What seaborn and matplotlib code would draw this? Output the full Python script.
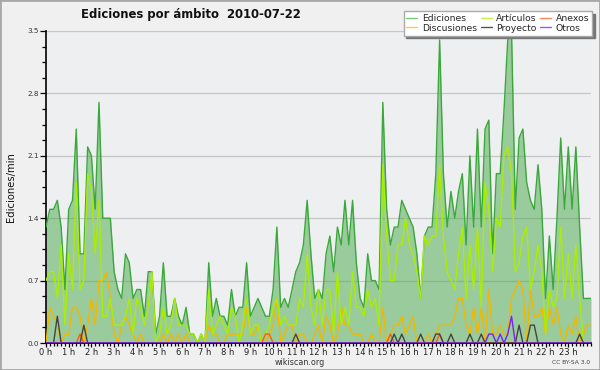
import matplotlib
matplotlib.use("Agg")
import matplotlib.pyplot as plt
from matplotlib.ticker import MultipleLocator
from matplotlib.lines import Line2D
from matplotlib.patches import Rectangle
import pandas as pd
import seaborn as sns

sns.set_theme(style="white")
plt.rcParams["font.family"] = ["DejaVu Sans"]

# edits per minute, 10-minute steps from 0:00 to 24:00
ediciones = [
    1.3, 1.5, 1.5, 1.6, 1.3, 0.6, 1.5, 1.6, 2.4, 1.0,
    1.0, 2.2, 2.1, 1.5, 2.7, 1.4, 1.4, 1.4, 0.8, 0.6,
    0.5, 1.0, 0.9, 0.5, 0.6, 0.6, 0.3, 0.8, 0.8, 0.1,
    0.3, 0.9, 0.3, 0.3, 0.5, 0.3, 0.2, 0.4, 0.1, 0.1,
    0.0, 0.1, 0.0, 0.9, 0.3, 0.5, 0.3, 0.3, 0.2, 0.6,
    0.3, 0.4, 0.4, 0.9, 0.3, 0.4, 0.5, 0.4, 0.3, 0.3,
    0.6, 1.3, 0.4, 0.5, 0.4, 0.6, 0.8, 0.9, 1.1, 1.6,
    1.0, 0.5, 0.6, 0.5, 1.0, 1.2, 0.8, 1.3, 1.1, 1.6,
    1.1, 1.6, 0.9, 0.5, 0.4, 1.0, 0.7, 0.7, 0.6, 2.7,
    1.5, 1.1, 1.3, 1.3, 1.6, 1.5, 1.4, 1.3, 1.0, 0.5,
    1.2, 1.3, 1.3, 1.9, 3.4, 1.9, 1.3, 1.7, 1.4, 1.7,
    1.9, 1.1, 2.1, 1.3, 2.4, 1.3, 2.4, 2.5, 1.0, 1.9,
    1.9, 2.6, 3.4, 3.5, 1.5, 2.3, 2.4, 1.8, 1.6, 1.5,
    2.0, 1.5, 0.5, 1.2, 0.6, 1.4, 2.3, 1.5, 2.2, 1.5,
    2.2, 1.3, 0.5, 0.5, 0.5,
]
articulos = [
    0.7, 0.8, 0.8, 0.5, 1.1, 0.2, 1.0, 0.6, 1.8, 0.6,
    0.7, 1.9, 1.7, 1.0, 1.6, 0.3, 0.3, 0.5, 0.2, 0.2,
    0.2, 0.3, 0.5, 0.1, 0.5, 0.4, 0.2, 0.4, 0.8, 0.0,
    0.1, 0.4, 0.1, 0.2, 0.5, 0.2, 0.2, 0.2, 0.1, 0.1,
    0.0, 0.1, 0.0, 0.6, 0.1, 0.2, 0.3, 0.2, 0.1, 0.4,
    0.3, 0.0, 0.2, 0.5, 0.1, 0.2, 0.2, 0.0, 0.1, 0.2,
    0.4, 0.5, 0.2, 0.3, 0.2, 0.2, 0.2, 0.5, 0.4, 1.0,
    0.4, 0.2, 0.6, 0.2, 0.6, 0.6, 0.1, 0.8, 0.2, 0.4,
    0.2, 0.8, 0.4, 0.4, 0.3, 0.6, 0.4, 0.5, 0.2, 2.0,
    1.2, 0.7, 0.7, 1.1, 1.1, 1.4, 1.1, 1.0, 0.8, 0.5,
    1.2, 1.1, 1.2, 1.2, 2.0, 1.2, 0.8, 0.7, 0.6, 1.0,
    1.3, 0.5, 1.1, 0.6, 1.3, 0.4, 1.8, 1.5, 0.8, 1.4,
    1.3, 2.1, 2.2, 1.9, 0.8, 0.9, 1.2, 1.3, 0.6, 0.8,
    1.1, 0.8, 0.1, 0.6, 0.4, 0.5, 1.3, 0.5, 1.0, 0.5,
    1.1, 0.5, 0.0, 0.0, 0.0,
]
discusiones = [
    0.0, 0.4, 0.3, 0.2, 0.0, 0.1, 0.1, 0.4, 0.4, 0.3,
    0.0, 0.2, 0.5, 0.2, 0.7, 0.7, 0.8, 0.5, 0.1, 0.0,
    0.2, 0.3, 0.2, 0.1, 0.0, 0.1, 0.0, 0.0, 0.0, 0.0,
    0.0, 0.1, 0.0, 0.1, 0.0, 0.1, 0.0, 0.1, 0.0, 0.0,
    0.0, 0.0, 0.0, 0.2, 0.1, 0.1, 0.0, 0.0, 0.1, 0.1,
    0.1, 0.1, 0.1, 0.4, 0.1, 0.1, 0.2, 0.0, 0.0, 0.1,
    0.2, 0.5, 0.0, 0.1, 0.2, 0.2, 0.0, 0.1, 0.1, 0.0,
    0.0, 0.1, 0.2, 0.0, 0.3, 0.2, 0.0, 0.1, 0.4, 0.2,
    0.2, 0.1, 0.1, 0.1, 0.0, 0.0, 0.1, 0.0, 0.0, 0.4,
    0.0, 0.1, 0.2, 0.2, 0.3, 0.1, 0.2, 0.3, 0.0, 0.0,
    0.0, 0.1, 0.0, 0.1, 0.2, 0.2, 0.2, 0.2, 0.3, 0.5,
    0.5, 0.2, 0.1, 0.4, 0.1, 0.4, 0.0, 0.6, 0.1, 0.1,
    0.2, 0.1, 0.1, 0.5, 0.6, 0.7, 0.6, 0.0, 0.6, 0.3,
    0.3, 0.4, 0.1, 0.4, 0.2, 0.4, 0.1, 0.0, 0.2, 0.1,
    0.3, 0.0, 0.1, 0.2, 0.2,
]
proyecto = [
    0.0, 0.0, 0.0, 0.3, 0.0, 0.0, 0.0, 0.0, 0.0, 0.0,
    0.2, 0.0, 0.0, 0.0, 0.0, 0.0, 0.0, 0.0, 0.0, 0.0,
    0.0, 0.0, 0.0, 0.0, 0.0, 0.0, 0.0, 0.0, 0.0, 0.0,
    0.0, 0.0, 0.0, 0.0, 0.0, 0.0, 0.0, 0.0, 0.0, 0.0,
    0.0, 0.0, 0.0, 0.0, 0.0, 0.0, 0.0, 0.0, 0.0, 0.0,
    0.0, 0.0, 0.0, 0.0, 0.0, 0.0, 0.0, 0.0, 0.0, 0.0,
    0.0, 0.0, 0.0, 0.0, 0.0, 0.0, 0.1, 0.0, 0.0, 0.0,
    0.0, 0.0, 0.0, 0.0, 0.0, 0.0, 0.0, 0.0, 0.0, 0.0,
    0.0, 0.0, 0.0, 0.0, 0.0, 0.0, 0.0, 0.0, 0.0, 0.0,
    0.0, 0.0, 0.1, 0.0, 0.1, 0.0, 0.0, 0.0, 0.0, 0.1,
    0.0, 0.0, 0.0, 0.1, 0.1, 0.0, 0.0, 0.1, 0.0, 0.0,
    0.0, 0.0, 0.1, 0.0, 0.0, 0.1, 0.0, 0.0, 0.0, 0.0,
    0.0, 0.0, 0.0, 0.0, 0.0, 0.2, 0.0, 0.0, 0.2, 0.2,
    0.0, 0.0, 0.0, 0.0, 0.0, 0.0, 0.0, 0.0, 0.0, 0.0,
    0.0, 0.1, 0.0, 0.0, 0.0,
]
anexos = [
    0.0, 0.0, 0.0, 0.0, 0.0, 0.0, 0.0, 0.0, 0.0, 0.1,
    0.0, 0.0, 0.0, 0.0, 0.0, 0.0, 0.0, 0.0, 0.0, 0.0,
    0.0, 0.0, 0.0, 0.0, 0.0, 0.0, 0.0, 0.0, 0.0, 0.0,
    0.0, 0.0, 0.0, 0.0, 0.0, 0.0, 0.0, 0.0, 0.0, 0.0,
    0.0, 0.0, 0.0, 0.0, 0.0, 0.0, 0.0, 0.0, 0.0, 0.0,
    0.0, 0.0, 0.0, 0.0, 0.0, 0.0, 0.0, 0.0, 0.1, 0.1,
    0.0, 0.0, 0.0, 0.0, 0.0, 0.0, 0.0, 0.0, 0.0, 0.0,
    0.0, 0.0, 0.0, 0.0, 0.0, 0.0, 0.0, 0.0, 0.0, 0.0,
    0.0, 0.0, 0.0, 0.0, 0.0, 0.0, 0.0, 0.0, 0.0, 0.0,
    0.0, 0.1, 0.0, 0.0, 0.0, 0.0, 0.0, 0.0, 0.0, 0.0,
    0.0, 0.0, 0.0, 0.0, 0.1, 0.0, 0.0, 0.0, 0.0, 0.0,
    0.0, 0.0, 0.0, 0.0, 0.0, 0.0, 0.0, 0.0, 0.0, 0.0,
    0.0, 0.0, 0.0, 0.0, 0.0, 0.0, 0.0, 0.0, 0.0, 0.0,
    0.0, 0.0, 0.0, 0.0, 0.0, 0.0, 0.0, 0.0, 0.0, 0.0,
    0.0, 0.0, 0.0, 0.0, 0.0,
]
otros = [
    0.0, 0.0, 0.0, 0.0, 0.0, 0.0, 0.0, 0.0, 0.0, 0.0,
    0.0, 0.0, 0.0, 0.0, 0.0, 0.0, 0.0, 0.0, 0.0, 0.0,
    0.0, 0.0, 0.0, 0.0, 0.0, 0.0, 0.0, 0.0, 0.0, 0.0,
    0.0, 0.0, 0.0, 0.0, 0.0, 0.0, 0.0, 0.0, 0.0, 0.0,
    0.0, 0.0, 0.0, 0.0, 0.0, 0.0, 0.0, 0.0, 0.0, 0.0,
    0.0, 0.0, 0.0, 0.0, 0.0, 0.0, 0.0, 0.0, 0.0, 0.0,
    0.0, 0.0, 0.0, 0.0, 0.0, 0.0, 0.0, 0.0, 0.0, 0.0,
    0.0, 0.0, 0.0, 0.0, 0.0, 0.0, 0.0, 0.0, 0.0, 0.0,
    0.0, 0.0, 0.0, 0.0, 0.0, 0.0, 0.0, 0.0, 0.0, 0.0,
    0.0, 0.0, 0.0, 0.0, 0.0, 0.0, 0.0, 0.0, 0.0, 0.0,
    0.0, 0.0, 0.0, 0.0, 0.0, 0.0, 0.0, 0.0, 0.0, 0.0,
    0.0, 0.0, 0.0, 0.0, 0.0, 0.0, 0.0, 0.1, 0.1, 0.0,
    0.1, 0.0, 0.1, 0.3, 0.0, 0.0, 0.0, 0.0, 0.0, 0.0,
    0.0, 0.0, 0.0, 0.0, 0.0, 0.0, 0.0, 0.0, 0.0, 0.0,
    0.0, 0.0, 0.0, 0.0, 0.0,
]

line_colors = {
    "Ediciones": "#3aa83a",
    "Artículos": "#aaee00",
    "Anexos": "#ff5a10",
    "Discusiones": "#f2b800",
    "Proyecto": "#444444",
    "Otros": "#7a22f0",
}
legend_colors = {
    "Ediciones": "#77cc77",
    "Artículos": "#ccee55",
    "Anexos": "#ff8855",
    "Discusiones": "#ffcc44",
    "Proyecto": "#555555",
    "Otros": "#9955ff",
}
legend_order = ["Ediciones", "Discusiones", "Artículos", "Proyecto", "Anexos", "Otros"]
hour_labels = [f"{h} h" for h in range(24)]
y_ticks = [0.0, 0.7, 1.4, 2.1, 2.8, 3.5]

hours = [m / 60 for m in range(0, 24 * 60 + 1, 10)]
df = pd.DataFrame({
    "hora": hours,
    "Ediciones": ediciones,
    "Artículos": articulos,
    "Anexos": anexos,
    "Discusiones": discusiones,
    "Proyecto": proyecto,
    "Otros": otros,
})
long = df.melt(id_vars="hora", var_name="serie", value_name="valor")

fig = plt.figure(figsize=(6, 3.7), dpi=100, facecolor="#f0f0f0")
ax = fig.add_axes([46 / 600, 1 - 343 / 370, 545 / 600, 312 / 370])
ax.set_facecolor("#eeeff1")

ax.yaxis.grid(True, color="#c6c6c6", lw=0.9)
ax.set_axisbelow(True)
ax.fill_between(df["hora"], df["Ediciones"], color="#48a848", alpha=0.5, lw=0, zorder=2)
sns.lineplot(data=long, x="hora", y="valor", hue="serie",
             hue_order=["Ediciones", "Discusiones", "Artículos", "Anexos", "Proyecto", "Otros"],
             palette=line_colors, linewidth=1.0, legend=False, ax=ax, zorder=3)

ax.set_xlim(0, 24)
ax.set_ylim(0, 3.5)
ax.set_xticks(range(24))
ax.set_xticklabels(hour_labels)
ax.xaxis.set_minor_locator(MultipleLocator(1 / 6))
ax.set_yticks(y_ticks)
ax.set_yticklabels([f"{v:.1f}" for v in y_ticks])
ax.yaxis.set_minor_locator(MultipleLocator(0.175))
ax.set_xlabel("")
ax.set_ylabel("")
ax.tick_params(axis="both", which="both", bottom=True, left=True, direction="out",
               color="black", width=0.9)
ax.tick_params(axis="x", which="major", length=3, labelsize=6, pad=0.5, labelcolor="#222222")
ax.tick_params(axis="x", which="minor", length=2.5)
ax.tick_params(axis="y", which="major", length=4, labelsize=5.2, pad=1, labelcolor="#333333")
ax.tick_params(axis="y", which="minor", length=3)
for side in ["top", "right"]:
    ax.spines[side].set_visible(False)
for side in ["left", "bottom"]:
    ax.spines[side].set_color("black")
    ax.spines[side].set_linewidth(1.2)

fig.text(0.318, 0.962, "Ediciones por ámbito  2010-07-22", ha="center", va="center",
         fontsize=8.4, fontweight="bold", color="#111111")
fig.text(0.018, 0.495, "Ediciones/min", rotation=90, ha="center", va="center",
         fontsize=7.2, color="#111111")
fig.text(0.5, 1 - 362.5 / 370, "wikiscan.org", ha="center", va="center",
         fontsize=5.8, color="#333333")
fig.text(590 / 600, 1 - 362.5 / 370, "CC BY-SA 3.0", ha="right", va="center",
         fontsize=4.3, color="#444444")

handles = [Line2D([], [], color=legend_colors[n], lw=1.0) for n in legend_order]
fig.legend(handles, legend_order, ncol=3, loc="upper right",
           bbox_to_anchor=(592 / 600, 1 - 11 / 370), fontsize=6.7, frameon=True,
           fancybox=False, edgecolor="#aaaaaa", facecolor="white", framealpha=1,
           shadow={"color": "#777777", "alpha": 1}, handlelength=1.2,
           handletextpad=0.45, columnspacing=0.4, labelspacing=0.1,
           borderpad=0.3, borderaxespad=0)

fig.patches.append(Rectangle((0, 0), 1, 1, transform=fig.transFigure, fill=False,
                             edgecolor="#a8a8a8", lw=2))

fig.savefig("out.png", dpi=100, facecolor=fig.get_facecolor())
